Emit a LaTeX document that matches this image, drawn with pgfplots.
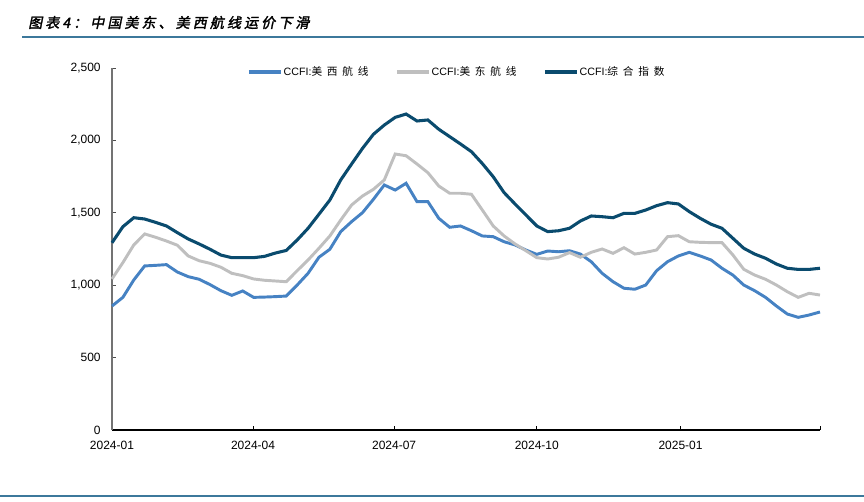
\documentclass[border=0pt]{standalone}
\usepackage{fontspec}
\setmainfont{Liberation Sans}
\usepackage{pgfplots}
\usepackage{pgfplotstable}
\pgfplotsset{compat=1.18}
\newfontfamily\cjk[LetterSpace=45]{Noto Sans CJK SC}
\newfontfamily\cjktitle[FakeSlant=0.2,FakeBold=2,LetterSpace=22]{Noto Sans CJK SC}
\definecolor{cwest}{RGB}{70,130,195}
\definecolor{ceast}{RGB}{191,191,191}
\definecolor{ccomp}{RGB}{10,75,110}
\definecolor{rulecol}{RGB}{60,120,155}

% weekly CCFI readings, k = week index from the first week of 2024
\pgfplotstableread{
k west east comp
0 856 1043 1293
1 916 1156 1404
2 1036 1278 1466
3 1133 1354 1457
4 1137 1331 1434
5 1142 1305 1409
6 1091 1276 1363
7 1059 1202 1319
8 1041 1169 1285
9 1004 1151 1248
10 962 1124 1208
11 930 1082 1190
12 960 1066 1190
13 916 1043 1190
14 918 1034 1199
15 921 1029 1222
16 925 1024 1240
17 1001 1100 1312
18 1082 1174 1393
19 1193 1255 1490
20 1248 1340 1588
21 1370 1450 1727
22 1439 1554 1837
23 1501 1616 1945
24 1593 1662 2042
25 1692 1727 2106
26 1657 1906 2159
27 1704 1894 2182
28 1577 1837 2134
29 1577 1777 2141
30 1462 1685 2077
31 1400 1635 2026
32 1409 1635 1975
33 1376 1628 1922
34 1340 1519 1840
35 1335 1409 1749
36 1300 1340 1639
37 1278 1285 1561
38 1243 1238 1485
39 1213 1190 1409
40 1236 1181 1370
41 1231 1193 1376
42 1238 1225 1393
43 1215 1193 1443
44 1162 1227 1478
45 1082 1250 1473
46 1024 1220 1466
47 979 1259 1496
48 972 1215 1496
49 1001 1227 1519
50 1100 1243 1549
51 1162 1335 1570
52 1202 1342 1561
53 1227 1300 1508
54 1202 1296 1462
55 1174 1294 1421
56 1117 1294 1393
57 1070 1209 1324
58 1001 1110 1255
59 962 1070 1215
60 916 1041 1186
61 856 1001 1146
62 801 955 1117
63 778 916 1109
64 794 944 1109
65 815 932 1117
}\ccfi

\begin{document}
\begin{tikzpicture}
\useasboundingbox (0,0) rectangle (648pt,376.5pt);
\draw[rulecol, line width=1.5pt] (16.5pt,348.75pt) -- (648pt,348.75pt);
\draw[rulecol, line width=1.2pt] (0pt,4.5pt) -- (648pt,4.5pt);
\node[anchor=west, inner sep=0pt] at (21pt,359.6pt)
  {\cjktitle\fontsize{10.5}{12}\selectfont 图表4：中国美东、美西航线运价下滑};

\begin{axis}[
    at={(84pt,54pt)}, anchor=south west,
    scale only axis,
    width=531pt, height=271.5pt,
    xmin=0, xmax=65,
    ymin=0, ymax=2500,
    clip=false,
    separate axis lines,
    axis x line*=bottom,
    axis y line*=left,
    x axis line style={black, line width=0.9pt, -},
    y axis line style={black!55, line width=0.9pt, -},
    tick align=inside,
    major tick length=3pt,
    xtick={0,12.95,25.9,39.0,52.2,65},
    xticklabels={2024-01,2024-04,2024-07,2024-10,2025-01,},
    ytick={0,500,1000,1500,2000,2500},
    xtick style={black, line width=0.6pt},
    ytick style={black!70, line width=0.6pt},
    minor tick num=0,
    /pgf/number format/assume math mode=true,
    /pgf/number format/1000 sep={,},
    tick label style={font=\fontsize{9}{10.8}\selectfont},
    xticklabel style={yshift=-5pt},
    yticklabel style={xshift=-5pt},
    legend columns=3,
    legend style={at={(0.1907,0.989)}, anchor=west, draw=none, fill=none,
        inner sep=0pt, font=\fontsize{8}{9.6}\selectfont,
        nodes={inner sep=0pt},
        /tikz/every odd column/.append style={column sep=1pt},
        /tikz/every even column/.append style={column sep=20pt}},
    legend image code/.code={\draw[#1, line width=2.3pt] (0pt,0pt) -- (24pt,0pt);},
]
\addplot[cwest, line width=2.2pt] table[x=k, y=west] {\ccfi};
\addlegendentry{CCFI:{\cjk 美西航线}}
\addplot[ceast, line width=2.2pt] table[x=k, y=east] {\ccfi};
\addlegendentry{CCFI:{\cjk 美东航线}}
\addplot[ccomp, line width=2.3pt] table[x=k, y=comp] {\ccfi};
\addlegendentry{CCFI:{\cjk 综合指数}}
\end{axis}
\end{tikzpicture}
\end{document}
